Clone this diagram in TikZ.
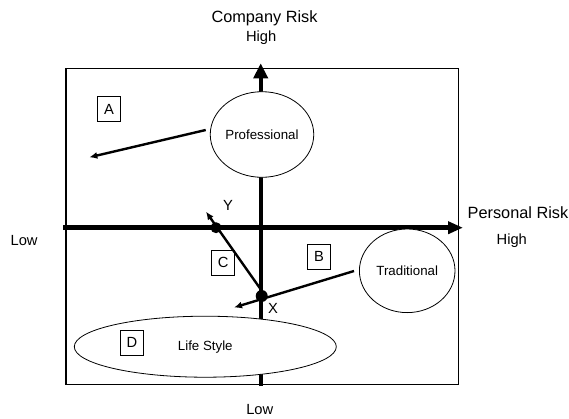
\documentclass[tikz,border=0pt]{standalone}
\usepackage{fontspec}
\setmainfont{Liberation Sans}
\usetikzlibrary{arrows.meta,shapes.geometric}
\begin{document}
\begin{tikzpicture}[x=1pt,y=-1pt,
  frame/.style={line width=1.5pt},
  haxis/.style={line width=4.6pt,-{Triangle[width=12pt,length=15pt]}},
  vaxis/.style={line width=4.3pt,-{Triangle[width=14pt,length=15pt]}},
  oval/.style={ellipse,draw,fill=white,line width=0.8pt,inner sep=0pt,font=\fontsize{13.3}{16}\selectfont},
  ptr/.style={line width=2.4pt,-{Latex[length=8pt,width=7pt]}},
  lbl/.style={draw,line width=0.8pt,minimum width=23pt,minimum height=25pt,inner sep=0pt,font=\fontsize{14.7}{17}\selectfont},
  dot/.style={circle,fill=black,inner sep=0pt},
  bigtxt/.style={inner sep=0pt,font=\fontsize{16.3}{19}\selectfont},
  midtxt/.style={inner sep=0pt,font=\fontsize{14.7}{17}\selectfont}]
\useasboundingbox (0,0) rectangle (569,418);
\draw[frame] (66,68.3) rectangle (458.7,384.3);
\coordinate (hL) at (63,227.7);
\coordinate (hR) at (463,227.7);
\coordinate (vB) at (260.7,386);
\coordinate (vT) at (260.7,63.3);
\draw[haxis] (hL) -- (hR);
\draw[vaxis] (vB) -- (vT);
\node[oval,minimum width=97.4pt,minimum height=85.6pt] (prof) at (262,134.5) {Professional};
\node[oval,minimum width=95.6pt,minimum height=83.6pt] (trad) at (407.2,270.8) {Traditional};
\node[oval,minimum width=262pt,minimum height=61pt] (life) at (205.3,346.7) {Life Style};
\coordinate (aS) at (205.7,130);
\coordinate (aE) at (89.3,157.3);
\draw[ptr] (aS) -- (aE);
\coordinate (bS) at (354,271);
\coordinate (bE) at (234,307.5);
\draw[ptr] (bS) -- (bE);
\coordinate (cS) at (260.5,289);
\coordinate (cE) at (206,211.7);
\draw[ptr] (cS) -- (cE);
\node[dot,minimum size=11pt] (ydot) at (216,227.7) {};
\node[dot,minimum size=12pt] (xdot) at (261.7,296) {};
\node[midtxt] (ylab) at (228,205.7) {Y};
\node[midtxt] (xlab) at (273,308.7) {X};
\node[lbl] (boxA) at (109,109.2) {A};
\node[lbl] (boxB) at (319,256.8) {B};
\node[lbl] (boxC) at (223.3,262.5) {C};
\node[lbl] (boxD) at (132,342.5) {D};
\node[bigtxt,anchor=base] (comp) at (264.5,22.6) {Company Risk};
\node[midtxt,anchor=base] (hiT) at (261.2,41.8) {High};
\node[bigtxt,anchor=base west] (pers) at (467.5,218.8) {Personal Risk};
\node[midtxt,anchor=base] (hiR) at (511.8,244.1) {High};
\node[midtxt,anchor=base] (loL) at (24.1,245.5) {Low};
\node[midtxt,anchor=base] (loB) at (259.8,414.8) {Low};
\end{tikzpicture}
\end{document}
